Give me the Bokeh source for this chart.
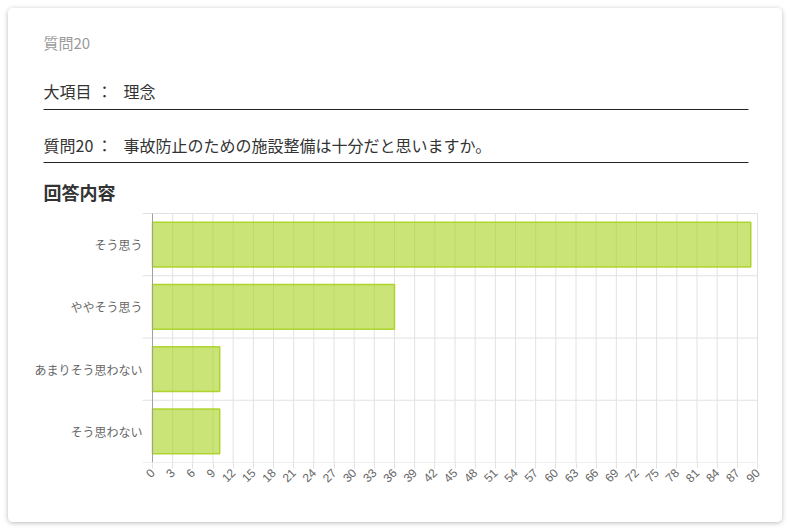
import math
from bokeh.plotting import figure
from bokeh.models import Range1d, LinearAxis, SingleIntervalTicker
from bokeh.core.properties import value
from bokeh.embed import file_html
from bokeh.resources import INLINE

# ---- data ----
categories = ["そう思う", "ややそう思う", "あまりそう思わない", "そう思わない"]
counts = [89, 36, 10, 10]
x_max = 90
x_step = 3
x_ticks = list(range(0, x_max + 1, x_step))

question_no = "質問20"
item_label = "大項目"
item_value = "理念"
question_label = "質問20"
question_text = "事故防止のための施設整備は十分だと思いますか。"
section_title = "回答内容"

JP = "Noto Sans CJK JP"
TICK_FONT = "Liberation Sans"

# ---- layout (pixels inside the card) ----
W, H = 774, 514
CH_L, CH_R, CH_T, CH_B = 144, 749, 205, 454   # chart area inside card
sx = (CH_R - CH_L) / x_max                     # px per value unit
band = (CH_B - CH_T) / len(categories)         # px per category

x_range = Range1d(-CH_L / sx, x_max + (W - CH_R) / sx)
y_range = Range1d(len(categories), -CH_T / band)   # reversed: first category on top

p = figure(width=W, height=CH_B + 60, x_range=x_range, y_range=y_range,
           x_axis_type=None, y_axis_type=None,
           output_backend="svg", toolbar_location=None,
           min_border_left=0, min_border_right=0, min_border_top=0, min_border_bottom=H - CH_B,
           outline_line_color=None, background_fill_color="#ffffff", border_fill_color="#ffffff")
p.extra_x_ranges = {"px": Range1d(0, W)}
p.extra_y_ranges = {"px": Range1d(CH_B, 0)}
p.styles = {"margin": "8px", "box-shadow": "0 1px 5px rgba(0,0,0,0.28)",
            "border-radius": "5px", "overflow": "hidden"}

# ---- header ----
def txt(x, y, s, size, color="#333333", style="normal"):
    p.text(x=[x], y=[y], text=[s], x_range_name="px", y_range_name="px",
           text_font=value(JP), text_font_size=size, text_font_style=style,
           text_color=color, text_baseline="middle", text_align="left")

txt(35, 33.5, question_no, "15px", color="#9a9a9a")
for yy, lab, val, ry in [(82.5, item_label, item_value, 101),
                         (136, question_label, question_text, 154)]:
    txt(35, yy, lab, "16px")
    txt(88, yy, "：", "16px")
    txt(115, yy, val, "16px")
    p.segment(x0=[35], x1=[740], y0=[ry], y1=[ry], x_range_name="px", y_range_name="px",
              line_color="#212529", line_width=1)
txt(35, 183.5, section_title, "18px", style="bold")

# ---- chart grid ----
grid_c = "#e2e2e2"
tick_len = 10 / sx
p.segment(x0=x_ticks, x1=x_ticks, y0=[0] * len(x_ticks), y1=[len(categories)] * len(x_ticks),
          line_color=grid_c, line_width=1)
bounds = list(range(len(categories) + 1))
p.segment(x0=[-tick_len] * len(bounds), x1=[x_max] * len(bounds), y0=bounds, y1=bounds,
          line_color=grid_c, line_width=1)

# ---- bars ----
centers = [i + 0.5 for i in range(len(categories))]
p.hbar(y=centers, right=counts, left=0, height=0.72,
       fill_color="#a8d21e", fill_alpha=0.6, line_color="#a8d21e", line_alpha=0.9, line_width=1.5)

# y axis line and category labels
p.segment(x0=[0], x1=[0], y0=[0], y1=[len(categories)], line_color="#a0a0a0", line_width=1)
p.text(x=[0] * len(categories), y=centers, text=categories, x_offset=-10,
       text_font=value(JP), text_font_size="12px", text_color="#666666",
       text_baseline="middle", text_align="right")

# ---- x axis ----
xa = LinearAxis(bounds=(0, x_max), ticker=SingleIntervalTicker(interval=x_step))
xa.axis_line_color = None
xa.major_tick_line_color = grid_c
xa.major_tick_in = 0
xa.major_tick_out = 6
xa.minor_tick_line_color = None
xa.major_label_orientation = math.pi / 4
xa.major_label_text_font = TICK_FONT
xa.major_label_text_font_size = "12px"
xa.major_label_text_color = "#666666"
xa.major_label_standoff = 2
p.add_layout(xa, "below")

open("out.html", "w").write(file_html(p, INLINE))
